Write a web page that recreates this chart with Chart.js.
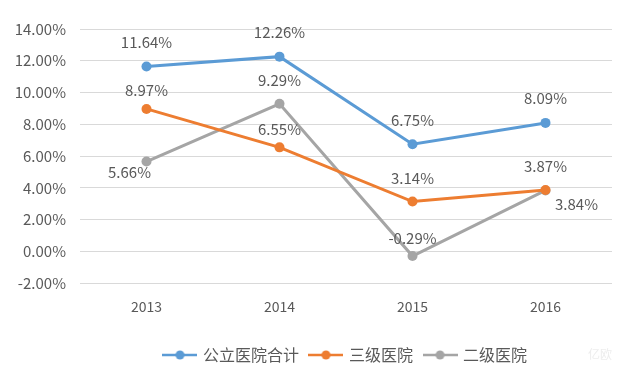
<!DOCTYPE html>
<html>
<head>
<meta charset="utf-8">
<script src="https://cdn.jsdelivr.net/npm/chart.js@4/dist/chart.umd.min.js"></script>
<style>
  html, body { margin: 0; padding: 0; background: #fff; }
  #wrap { width: 628px; height: 373px; }
</style>
</head>
<body>
<div id="wrap"><canvas id="growthChart" width="628" height="373"></canvas></div>
<script>
// chart data
const years = ['2013', '2014', '2015', '2016'];
const seriesNames = ['公立医院合计', '三级医院', '二级医院'];
const publicTotal = [11.64, 12.26, 6.75, 8.09];
const tertiary = [8.97, 6.55, 3.14, 3.87];
const secondary = [5.66, 9.29, -0.29, 3.84];
const yTicks = [-2, 0, 2, 4, 6, 8, 10, 12, 14];

const COLORS = ['#5B9BD5', '#ED7D31', '#A5A5A5'];
const TEXT = '#595959';
const FONT = '"Microsoft YaHei", "Noto Sans CJK SC", sans-serif';

// label offsets [dx, dy] from each point, per series
const labelOffsets = [
    [[0, -24], [0, -24], [0, -24], [0, -25]],
    [[0, -19], [0, -18], [0, -23], [0, -24]],
    [[-17, 11], [0, -24], [0, -18], [31, 14]]
];

// little line+dot marker for the legend
function legendMarker(color) {
    const c = document.createElement('canvas');
    c.width = 35; c.height = 12;
    const g = c.getContext('2d');
    g.strokeStyle = color;
    g.lineWidth = 2.5;
    g.beginPath(); g.moveTo(0, 6); g.lineTo(35, 6); g.stroke();
    g.fillStyle = color;
    g.beginPath(); g.arc(17.5, 6, 4.5, 0, Math.PI * 2); g.fill();
    return c;
}

const valueLabels = {
    id: 'valueLabels',
    afterDatasetsDraw(chart) {
        const ctx = chart.ctx;
        ctx.save();
        ctx.font = '15px ' + FONT;
        ctx.fillStyle = TEXT;
        ctx.textAlign = 'center';
        ctx.textBaseline = 'middle';
        chart.data.datasets.forEach((ds, i) => {
            chart.getDatasetMeta(i).data.forEach((pt, j) => {
                const off = labelOffsets[i][j];
                ctx.fillText(ds.data[j].toFixed(2) + '%', pt.x + off[0], pt.y + off[1]);
            });
        });
        // faint watermark
        ctx.fillStyle = '#EDEDED';
        ctx.font = '12px ' + FONT;
        ctx.fillText('亿欧', 600, 354);
        ctx.restore();
    }
};

const datasets = [publicTotal, tertiary, secondary].map((vals, i) => ({
    label: seriesNames[i],
    data: vals,
    borderColor: COLORS[i],
    backgroundColor: COLORS[i],
    borderWidth: 3,
    pointRadius: 5,
    pointHoverRadius: 5,
    pointBorderWidth: 0,
    tension: 0
}));

new Chart(document.getElementById('growthChart'), {
    type: 'line',
    data: { labels: years, datasets: datasets },
    options: {
        responsive: false,
        animation: false,
        layout: { padding: { top: 29, left: 6, right: 16, bottom: 0 } },
        scales: {
            x: {
                offset: true,
                afterFit(scale) { scale.height += 5; },
                grid: { display: false, drawTicks: false },
                border: { display: false },
                ticks: { color: TEXT, font: { size: 14, family: FONT }, padding: 15 }
            },
            y: {
                min: -2,
                max: 14,
                afterFit(scale) { scale.width = 74; },
                afterBuildTicks(scale) { scale.ticks = yTicks.map(v => ({ value: v })); },
                grid: { color: '#D9D9D9', drawTicks: false },
                border: { display: false },
                ticks: {
                    color: TEXT,
                    font: { size: 15, family: FONT },
                    padding: 14,
                    callback: v => v.toFixed(2) + '%'
                }
            }
        },
        plugins: {
            legend: {
                position: 'bottom',
                fullSize: false,
                labels: {
                    color: TEXT,
                    font: { size: 16, family: FONT },
                    usePointStyle: true,
                    pointStyleWidth: 30,
                    boxHeight: 12,
                    padding: 12,
                    generateLabels(chart) {
                        return chart.data.datasets.map((ds, i) => ({
                            text: ds.label,
                            fillStyle: COLORS[i],
                            strokeStyle: COLORS[i],
                            pointStyle: legendMarker(COLORS[i]),
                            fontColor: TEXT,
                            datasetIndex: i,
                            hidden: false
                        }));
                    }
                }
            },
            tooltip: { enabled: false }
        }
    },
    plugins: [valueLabels]
});
</script>
</body>
</html>
